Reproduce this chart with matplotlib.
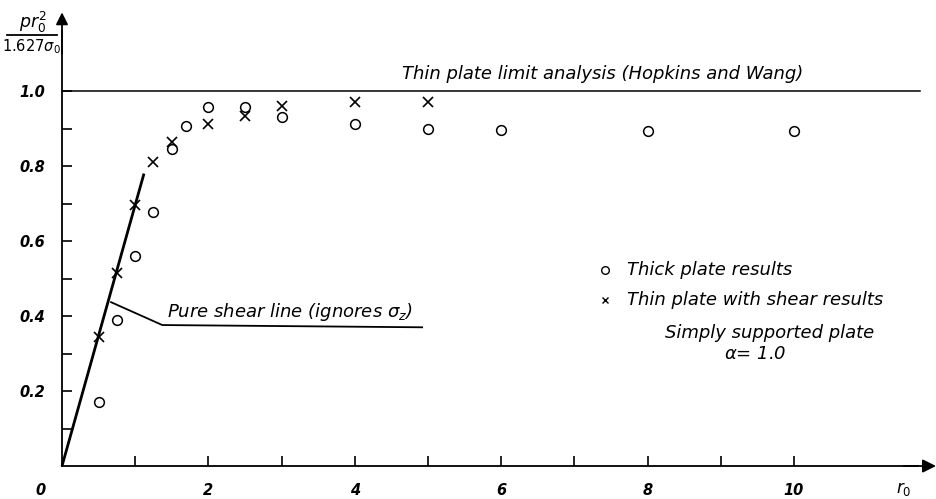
import matplotlib
matplotlib.use("Agg")
import matplotlib.pyplot as plt
from matplotlib.lines import Line2D

plt.rcParams['font.family'] = ['DejaVu Sans']
plt.rcParams['mathtext.fontset'] = 'dejavusans'

# ---- data ----
thick_x = [0.5, 0.75, 1.0, 1.25, 1.5, 1.7, 2.0, 2.5, 3.0, 4.0, 5.0, 6.0, 8.0, 10.0]
thick_y = [0.17, 0.39, 0.56, 0.677, 0.845, 0.907, 0.957, 0.957, 0.931, 0.912, 0.899, 0.896, 0.894, 0.893]

thin_x = [0.5, 0.75, 1.0, 1.25, 1.5, 2.0, 2.5, 3.0, 4.0, 5.0]
thin_y = [0.344, 0.515, 0.696, 0.81, 0.864, 0.912, 0.933, 0.96, 0.971, 0.971]

steep_x = [0.0, 1.12]
steep_y = [0.0, 0.78]

shear_x = [0.67, 1.37, 4.92]
shear_y = [0.437, 0.376, 0.37]

limit_x = [0.0, 11.72]
limit_y = [1.0, 1.0]

xticks = [1, 2, 3, 4, 5, 6, 7, 8, 9, 10]
xlabels = ['', '2', '', '4', '', '6', '', '8', '', '10']
yticks = [0.1, 0.2, 0.3, 0.4, 0.5, 0.6, 0.7, 0.8, 0.9, 1.0]
ylabels = ['', '0.2', '', '0.4', '', '0.6', '', '0.8', '', '1.0']

# ---- figure ----
W, H = 936, 499
fig = plt.figure(figsize=(W / 100, H / 100), dpi=100)
ax = fig.add_axes([0, 0, 1, 1])
ax.set_xlim(-0.847, 11.94)
ax.set_ylim(-0.088, 1.243)

ax.spines['top'].set_visible(False)
ax.spines['right'].set_visible(False)
ax.spines['left'].set_position(('data', 0))
ax.spines['bottom'].set_position(('data', 0))
ax.spines['left'].set_bounds(0, 1.16)
ax.spines['bottom'].set_bounds(0, 11.7)
for s in ('left', 'bottom'):
    ax.spines[s].set_linewidth(1.3)
    ax.spines[s].set_color('black')

# arrow heads on the axes
ax.annotate('', xy=(11.94, 0), xytext=(11.5, 0),
            arrowprops=dict(arrowstyle='-|>', color='black', lw=1.3,
                            mutation_scale=20, shrinkA=0, shrinkB=0),
            annotation_clip=False)
ax.annotate('', xy=(0, 1.21), xytext=(0, 1.1),
            arrowprops=dict(arrowstyle='-|>', color='black', lw=1.3,
                            mutation_scale=18, shrinkA=0, shrinkB=0),
            annotation_clip=False)

tick_font = dict(fontstyle='italic', fontweight='bold', fontsize=10.5)
ax.set_xticks(xticks)
ax.set_xticklabels(xlabels, **tick_font)
ax.set_yticks(yticks)
ax.set_yticklabels(ylabels, **tick_font)
ax.tick_params(axis='both', direction='in', length=7, width=1.2, color='black')
ax.tick_params(axis='x', pad=12)
ax.tick_params(axis='y', pad=12)
ax.text(-0.3, -0.065, '0', ha='center', va='center', **tick_font)

# lines
ax.plot(limit_x, limit_y, color='black', lw=1.1)
ax.plot(steep_x, steep_y, color='black', lw=2.0, solid_capstyle='butt')
ax.plot(shear_x, shear_y, color='black', lw=1.3)

# points
ax.plot(thick_x, thick_y, linestyle='none', marker='o', markersize=7,
        markerfacecolor='none', markeredgecolor='black', markeredgewidth=1.1)
ax.plot(thin_x, thin_y, linestyle='none', marker='x', markersize=6.5,
        color='black', markeredgewidth=1.2)

# annotations
txt = dict(fontstyle='italic', fontsize=13, color='black')
ax.text(4.64, 1.045, 'Thin plate limit analysis (Hopkins and Wang)',
        ha='left', va='center', **txt)
ax.text(1.43, 0.41, r'Pure shear line (ignores $\sigma_z$)',
        ha='left', va='center', **txt)

ax.plot([7.42], [0.523], linestyle='none', marker='o', markersize=5.5,
        markerfacecolor='none', markeredgecolor='black', markeredgewidth=1.0)
ax.text(7.72, 0.523, 'Thick plate results', ha='left', va='center', **txt)
ax.plot([7.42], [0.443], linestyle='none', marker='x', markersize=5,
        color='black', markeredgewidth=1.0)
ax.text(7.72, 0.443, 'Thin plate with shear results', ha='left', va='center', **txt)
ax.text(9.67, 0.355, 'Simply supported plate', ha='center', va='center', **txt)
ax.text(9.47, 0.30, r'$\alpha$= 1.0', ha='center', va='center', **txt)

# y-axis label as a stacked fraction (top-left)
fig.text(33 / W, 1 - 22 / H, r'$\mathit{pr_0^2}$', ha='center', va='center',
         fontsize=12.5)
fig.add_artist(Line2D([7 / W, 57 / W], [1 - 35 / H, 1 - 35 / H],
                      color='black', lw=1.3, transform=fig.transFigure))
fig.text(31 / W, 1 - 47 / H, r'$\mathit{1.627\sigma_0}$', ha='center', va='center',
         fontsize=10.5)

# x-axis label
ax.text(11.5, -0.06, r'$r_0$', ha='center', va='center', fontsize=12)

fig.savefig('out.png', dpi=100)
